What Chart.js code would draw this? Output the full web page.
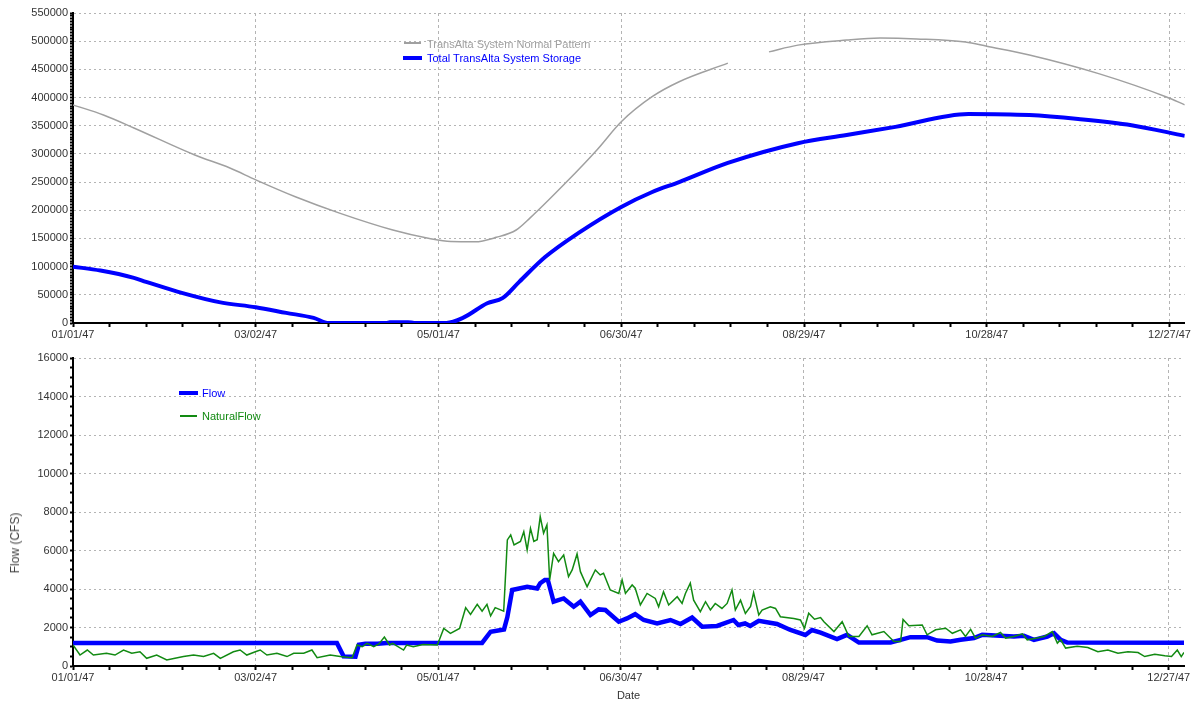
<!DOCTYPE html>
<html>
<head>
<meta charset="utf-8">
<script src="https://cdn.jsdelivr.net/npm/chart.js@4.4.0/dist/chart.umd.min.js"></script>
<style>
  body { margin: 0; background: #fff; }
  #wrap { position: relative; width: 1192px; height: 703px; font-family: 'Liberation Sans Narrow', 'Liberation Sans', Arial, sans-serif; }
  .box { position: absolute; left: 0; width: 1192px; }
  .lg { position: absolute; font-size: 11px; line-height: 14px; white-space: nowrap; }
  .sw { position: absolute; }
  #ytitle { position: absolute; left: 15px; top: 543px; transform: translate(-50%, -50%) rotate(-90deg);
            font: 12px 'Liberation Sans', Arial, sans-serif; color: #444; white-space: nowrap; }
</style>
</head>
<body>
<div id="wrap">
  <div class="box" style="top:0;height:340px"><canvas id="storageChart"></canvas></div>
  <div class="box" style="top:340px;height:363px"><canvas id="flowChart"></canvas></div>

  <div class="sw" style="left:404px;top:42px;width:17px;height:2px;background:#a0a0a0"></div>
  <div class="lg" style="left:427px;top:37px;color:#a0a0a0">TransAlta System Normal Pattern</div>
  <div class="sw" style="left:403px;top:56px;width:19px;height:4px;background:#0000ff"></div>
  <div class="lg" style="left:427px;top:51px;color:#0000ff">Total TransAlta System Storage</div>

  <div class="sw" style="left:179px;top:391px;width:19px;height:4px;background:#0000ff"></div>
  <div class="lg" style="left:202px;top:386px;color:#0000ff">Flow</div>
  <div class="sw" style="left:180px;top:415px;width:17px;height:2px;background:#128a12"></div>
  <div class="lg" style="left:202px;top:409px;color:#128a12">NaturalFlow</div>

  <div id="ytitle">Flow (CFS)</div>
</div>

<script>
// x values are days since 01/01/47
const tickLabels = ['01/01/47', '03/02/47', '05/01/47', '06/30/47', '08/29/47', '10/28/47', '12/27/47'];

// storage panel
const normalDays = [0, 10, 20, 40, 51.5, 60, 73, 87.5, 105, 117, 124, 132, 139, 145.5, 150, 162, 172, 180, 190, 199, 215, 221, 228.5, 238, 254, 265, 277, 293, 300, 314, 337, 359, 365];
const normalVals = [387000, 369000, 346000, 298000, 275000, 254000, 224000, 195000, 165000, 150000, 144500, 144000, 152000, 165000, 186000, 250000, 307000, 357000, 401000, 428000, 461000, null, 481000, 493000, 502000, 505500, 504000, 498500, 491000, 475500, 442000, 401000, 387000];

const storageDays = [0, 9, 20, 24, 36, 48, 60, 70, 79, 84, 103, 104, 110, 112, 122.6, 128, 136, 141, 146.5, 155, 166, 180, 190, 199, 215, 238, 254, 270, 294, 314, 330, 347.5, 365];
const storageVals = [100000, 93000, 80000, 73000, 53000, 37000, 28000, 18000, 9000, 0, 0, 1500, 1500, 0, 0, 9000, 35000, 44000, 73000, 117000, 160000, 206000, 232000, 250000, 284000, 319000, 333500, 348000, 371000, 369000, 362000, 351000, 332000];

// flow panel
const flowDays = [0, 86.7, 88.9, 92.8, 93.9, 96, 100, 103, 134.4, 137.2, 141.6, 142.7, 144.3, 149.2, 152.5, 153.5, 155, 156, 157.9, 161.2, 164.5, 166.7, 170, 172.7, 174.9, 179.3, 182, 184.7, 187.5, 191.9, 196.3, 199.6, 203.4, 206.7, 211.6, 217, 218.6, 220.8, 222.5, 225.3, 231.3, 235.7, 240.6, 242.8, 245.6, 251, 254.3, 258.2, 268.6, 271.9, 275.1, 280.6, 283.9, 288.3, 291.6, 296, 298.7, 309.1, 312.4, 315.7, 320.1, 322.3, 324.5, 326.7, 365];
const flowVals = [1200, 1200, 500, 480, 1100, 1150, 1150, 1200, 1200, 1780, 1900, 2540, 3950, 4120, 4030, 4300, 4470, 4470, 3340, 3510, 3080, 3340, 2650, 2940, 2910, 2300, 2470, 2690, 2390, 2210, 2390, 2180, 2520, 2040, 2080, 2390, 2130, 2210, 2080, 2350, 2180, 1870, 1610, 1870, 1730, 1400, 1620, 1220, 1220, 1360, 1500, 1500, 1320, 1270, 1360, 1450, 1620, 1530, 1570, 1360, 1530, 1700, 1360, 1220, 1210];

const naturalDays = [0, 2.3, 4.7, 6.7, 11, 13.8, 16.6, 19.3, 22, 24.2, 27.5, 30.8, 33.5, 36.3, 39.6, 42.9, 46.2, 48.4, 52.7, 54.9, 57.1, 59.9, 61.5, 63.7, 67, 70.3, 72.5, 75.8, 78.5, 80.2, 84.5, 87.8, 91.7, 93.3, 95, 96.6, 98.8, 100.5, 102.3, 104, 105, 108.6, 109.6, 111.8, 115, 119.7, 121.8, 124, 127, 129, 130.6, 132.8, 134.4, 136, 137.2, 138.7, 141.5, 142.7, 143.8, 144.9, 147, 148.1, 149.2, 150.3, 151.4, 152.5, 153.5, 154.6, 155.7, 156.6, 157.9, 159.5, 161.2, 162.8, 164, 165.6, 166.7, 168.9, 171.6, 173.2, 174.3, 176.5, 179.3, 180.4, 181.5, 183.7, 184.7, 186.4, 188.6, 191.3, 192.4, 194, 195.7, 198.5, 200.1, 201.2, 202.8, 203.9, 206.1, 207.8, 209.4, 211, 213.2, 214.9, 216.5, 217.6, 219.3, 220.9, 222.6, 223.6, 225.3, 226.4, 229.1, 230.8, 232.4, 236.8, 239, 240.3, 241.7, 243.6, 245.6, 246.7, 250, 252.7, 254.9, 258.2, 260.9, 262.5, 266.4, 269.7, 271.9, 272.7, 274.6, 279, 280.6, 283.4, 286.7, 288.9, 291.6, 293.2, 294.9, 296.5, 298.7, 302, 304.7, 306.4, 309.1, 311.9, 313.5, 316.8, 319, 321.7, 323.4, 324.5, 326.1, 329.9, 333.4, 336.7, 340, 343.3, 346.6, 349.9, 352.1, 355.4, 358.7, 360.9, 362.8, 364.1, 365];
const naturalVals = [1090, 570, 830, 570, 660, 570, 830, 660, 740, 400, 570, 310, 400, 490, 570, 490, 660, 400, 740, 830, 570, 740, 830, 570, 660, 490, 660, 660, 830, 430, 570, 490, 430, 1090, 1000, 1180, 1000, 1150, 1500, 1090, 1180, 830, 1090, 1000, 1120, 1090, 1950, 1690, 1950, 3030, 2680, 3200, 2850, 3200, 2600, 3030, 2850, 6550, 6810, 6290, 6470, 6980, 6030, 7150, 6470, 6560, 7760, 6900, 7330, 4470, 5850, 5420, 5770, 4640, 4990, 5820, 4900, 4120, 4990, 4730, 4820, 3950, 3770, 4470, 3770, 4210, 4040, 3170, 3770, 3510, 3080, 3860, 3170, 3600, 3250, 3770, 4300, 3420, 2820, 3340, 2910, 3250, 2990, 3250, 3950, 2910, 3420, 2730, 3100, 3810, 2650, 2900, 3080, 2990, 2560, 2470, 2390, 1960, 2740, 2430, 2520, 2300, 1790, 2300, 1530, 1530, 2090, 1620, 1790, 1270, 1270, 2420, 2090, 2130, 1620, 1880, 1960, 1700, 1880, 1530, 1900, 1450, 1620, 1530, 1740, 1450, 1530, 1670, 1360, 1450, 1530, 1790, 1190, 1360, 930, 1020, 960, 740, 830, 660, 740, 700, 490, 610, 530, 490, 830, 490, 700];

const tickFont = { family: "'Liberation Sans', Arial, sans-serif", size: 11 };

function pts(days, vals) {
  return days.map((d, i) => ({ x: d, y: vals[i] }));
}

function xAxis(height, title) {
  return {
    type: 'linear', min: 0, max: 365,
    afterFit: (s) => { s.height = height; },
    ticks: {
      stepSize: 12, autoSkip: false, includeBounds: false, maxRotation: 0, minRotation: 0,
      padding: 1, color: '#333', font: tickFont,
      callback: (v) => (v % 60 === 0 ? tickLabels[v / 60] : '')
    },
    grid: {
      color: (c) => (c.tick && c.tick.value % 60 === 0 && c.tick.value > 0 ? '#b4b4b4' : 'transparent'),
      tickLength: 4, tickColor: '#000', tickWidth: 2
    },
    border: { color: '#000', width: 2, dash: [3, 3] },
    title: title ? { display: true, text: title, color: '#333', font: tickFont, padding: 0 } : { display: false }
  };
}

function yAxis(max, step, major) {
  return {
    type: 'linear', min: 0, max: max,
    afterFit: (s) => { s.width = 73; },
    ticks: {
      stepSize: step, autoSkip: false, includeBounds: false,
      padding: 2, color: '#333', font: tickFont,
      callback: (v) => (v % major === 0 ? String(v) : '')
    },
    grid: {
      color: (c) => (c.tick && c.tick.value % major === 0 && c.tick.value > 0 ? '#b4b4b4' : 'transparent'),
      tickLength: 3, tickColor: '#000', tickWidth: 2
    },
    border: { color: '#000', width: 2, dash: [2, 3] }
  };
}

const common = {
  responsive: true,
  maintainAspectRatio: false,
  animation: false,
  plugins: { legend: { display: false }, tooltip: { enabled: false } },
  elements: { point: { radius: 0 } }
};

new Chart(document.getElementById('storageChart'), {
  type: 'line',
  data: {
    datasets: [
      { label: 'Total TransAlta System Storage', data: pts(storageDays, storageVals),
        borderColor: '#0000ff', borderWidth: 4, cubicInterpolationMode: 'monotone' },
      { label: 'TransAlta System Normal Pattern', data: pts(normalDays, normalVals),
        borderColor: '#a0a0a0', borderWidth: 1.5, spanGaps: false, cubicInterpolationMode: 'monotone' }
    ]
  },
  options: Object.assign({}, common, {
    layout: { padding: { top: 13, right: 5, left: 0, bottom: 0 } },
    scales: { x: xAxis(17, null), y: yAxis(550000, 5000, 50000) }
  })
});

new Chart(document.getElementById('flowChart'), {
  type: 'line',
  data: {
    datasets: [
      { label: 'NaturalFlow', data: pts(naturalDays, naturalVals),
        borderColor: '#128a12', borderWidth: 1.5, order: 0 },
      { label: 'Flow', data: pts(flowDays, flowVals),
        borderColor: '#0000ff', borderWidth: 4.5, order: 1 }
    ]
  },
  options: Object.assign({}, common, {
    layout: { padding: { top: 18, right: 8, left: 0, bottom: 0 } },
    scales: { x: xAxis(37, 'Date'), y: yAxis(16000, 500, 2000) }
  })
});
</script>
</body>
</html>
